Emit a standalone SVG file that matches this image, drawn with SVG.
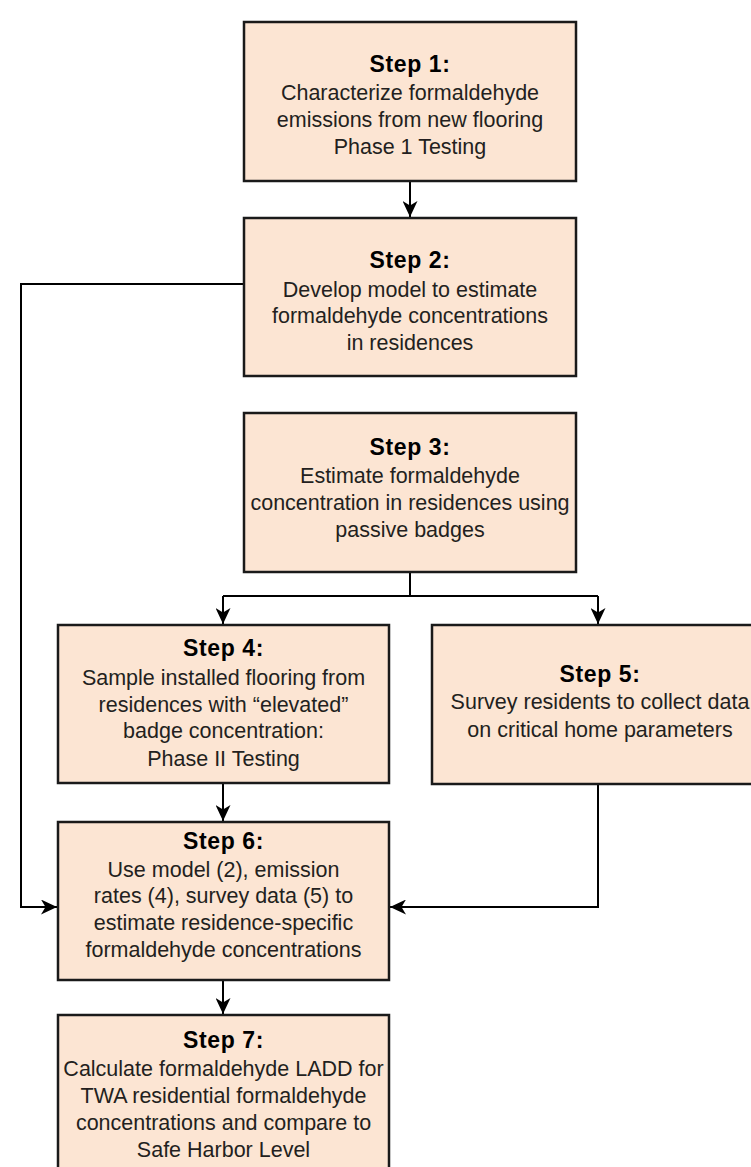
<svg xmlns="http://www.w3.org/2000/svg" width="751" height="1167" viewBox="0 0 751 1167">
<style>
.box{fill:#FCE5D3;stroke:#1a1a1a;stroke-width:2.5}
.h{font-family:"Liberation Sans",Arial,sans-serif;font-weight:bold;font-size:23px;letter-spacing:0.6px;fill:#000;text-anchor:middle}
.t{font-family:"Liberation Sans",Arial,sans-serif;font-size:21.5px;fill:#231f20;text-anchor:middle}
.c{fill:none;stroke:#000;stroke-width:2}
</style>
<defs>
<marker id="arr" markerUnits="userSpaceOnUse" markerWidth="17" markerHeight="15" viewBox="0 0 17 15" refX="16" refY="7.5" orient="auto">
<path d="M0,0 L16,7.5 L0,15 L4.5,7.5 z" fill="#000"/>
</marker>
</defs>
<rect width="751" height="1167" fill="#fff"/>
<g id="connectors">
<path class="c" d="M410,181 V217" marker-end="url(#arr)"/>
<path class="c" d="M244,284 H21 V907 H57" marker-end="url(#arr)"/>
<path class="c" d="M410,572 V596"/>
<path class="c" d="M223,596 H598"/>
<path class="c" d="M223,596 V624" marker-end="url(#arr)"/>
<path class="c" d="M598,596 V624" marker-end="url(#arr)"/>
<path class="c" d="M223,783 V821" marker-end="url(#arr)"/>
<path class="c" d="M598,784 V907 H390" marker-end="url(#arr)"/>
<path class="c" d="M223,980 V1014" marker-end="url(#arr)"/>
</g>
<g id="step1">
<rect class="box" x="244" y="22" width="332" height="159"/>
<text class="h" x="410" y="72">Step 1:</text>
<text class="t" x="410" y="100">Characterize formaldehyde</text>
<text class="t" x="410" y="127">emissions from new flooring</text>
<text class="t" x="410" y="154">Phase 1 Testing</text>
</g>
<g id="step2">
<rect class="box" x="244" y="218" width="332" height="158"/>
<text class="h" x="410" y="268">Step 2:</text>
<text class="t" x="410" y="297">Develop model to estimate</text>
<text class="t" x="410" y="323">formaldehyde concentrations</text>
<text class="t" x="410" y="350">in residences</text>
</g>
<g id="step3">
<rect class="box" x="244" y="413" width="332" height="159"/>
<text class="h" x="410" y="455">Step 3:</text>
<text class="t" x="410" y="483">Estimate formaldehyde</text>
<text class="t" x="410" y="510">concentration in residences using</text>
<text class="t" x="410" y="537">passive badges</text>
</g>
<g id="step4">
<rect class="box" x="58" y="625" width="331" height="158"/>
<text class="h" x="223.5" y="656">Step 4:</text>
<text class="t" x="223.5" y="685">Sample installed flooring from</text>
<text class="t" x="223.5" y="712">residences with “elevated”</text>
<text class="t" x="223.5" y="738">badge concentration:</text>
<text class="t" x="223.5" y="766">Phase II Testing</text>
</g>
<g id="step5">
<rect class="box" x="432" y="625" width="334" height="159"/>
<text class="h" x="600" y="682">Step 5:</text>
<text class="t" x="600" y="709">Survey residents to collect data</text>
<text class="t" x="600" y="737">on critical home parameters</text>
</g>
<g id="step6">
<rect class="box" x="58" y="822" width="331" height="158"/>
<text class="h" x="223.5" y="849">Step 6:</text>
<text class="t" x="223.5" y="877">Use model (2), emission</text>
<text class="t" x="223.5" y="903">rates (4), survey data (5) to</text>
<text class="t" x="223.5" y="930">estimate residence-specific</text>
<text class="t" x="223.5" y="957">formaldehyde concentrations</text>
</g>
<g id="step7">
<rect class="box" x="58" y="1015" width="331" height="170"/>
<text class="h" x="223.5" y="1048">Step 7:</text>
<text class="t" x="223.5" y="1076">Calculate formaldehyde LADD for</text>
<text class="t" x="223.5" y="1103">TWA residential formaldehyde</text>
<text class="t" x="223.5" y="1130">concentrations and compare to</text>
<text class="t" x="223.5" y="1157">Safe Harbor Level</text>
</g>
</svg>
